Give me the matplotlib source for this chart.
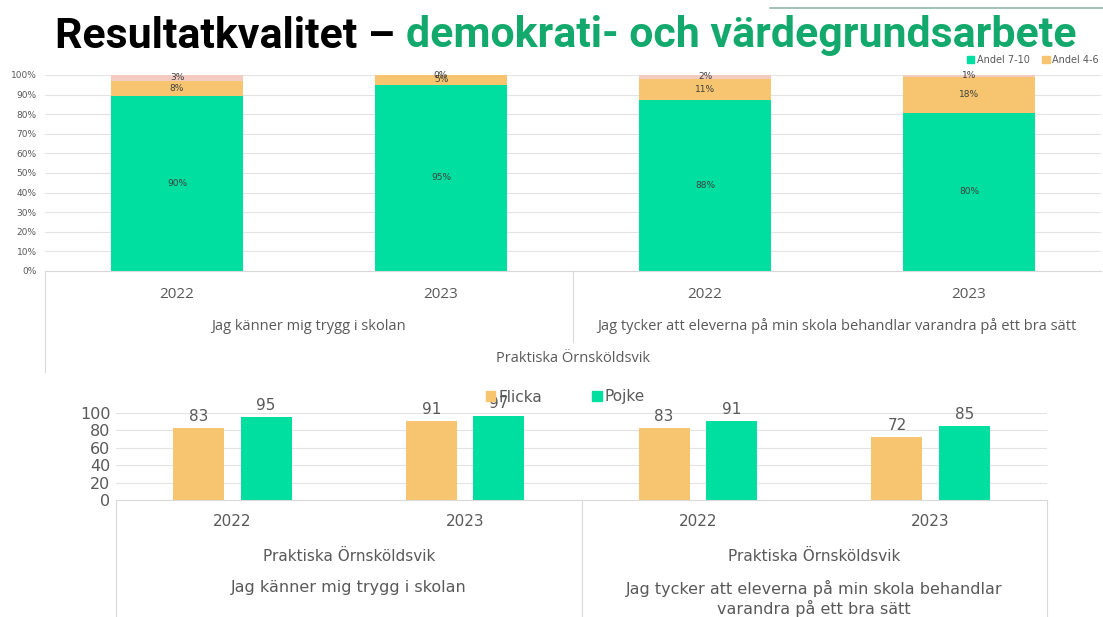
import numpy as np
import matplotlib.pyplot as plt
from matplotlib.transforms import blended_transform_factory
from matplotlib.lines import Line2D
from matplotlib.patches import Patch

# ---- data -------------------------------------------------------------
years = ["2022", "2023", "2022", "2023"]
questions = ["Jag känner mig trygg i skolan",
             "Jag tycker att eleverna på min skola behandlar varandra på ett bra sätt"]
school = "Praktiska Örnsköldsvik"

andel_7_10 = [90, 95, 88, 80]
andel_4_6 = [8, 5, 11, 18]
andel_1_3 = [3, 0, 2, 1]

flicka = [83, 91, 83, 72]
pojke = [95, 97, 91, 85]
questions_wrapped = ["Jag känner mig trygg i skolan",
                     "Jag tycker att eleverna på min skola behandlar\nvarandra på ett bra sätt"]

GREEN = "#00DF9F"
ORANGE = "#F7C56F"
PINK = "#F3CBC0"
GRID = "#E3E3E3"
TXT = "#595959"

W, H = 1103, 617
fig = plt.figure(figsize=(W / 100, H / 100), dpi=100)


def px_axes(left, top, right, bottom):
    return fig.add_axes([left / W, 1 - bottom / H, (right - left) / W, (bottom - top) / H])


def fy(y):
    return 1 - y / H


# ---- title (size fitted to the width it takes in the slide) ------------
t1 = fig.text(55 / W, fy(36), "Resultatkvalitet – ", fontsize=30, fontweight="bold",
              family="Roboto", color="black", va="center")
t2 = fig.text(0, fy(36), "demokrati- och värdegrundsarbete", fontsize=30, fontweight="bold",
              family="Roboto", color="#14A96C", va="center")
rend = fig.canvas.get_renderer()
w_all = t1.get_window_extent(rend).width + t2.get_window_extent(rend).width
size = 30 * 1020 / w_all
t1.set_fontsize(size)
t2.set_fontsize(size)
t2.set_x((55 + t1.get_window_extent(rend).width) / W)
fig.add_artist(Line2D([770 / W, 1.0], [fy(8), fy(8)], color="#8FB8A8", lw=1.2))

# ---- top chart: 100% stacked -------------------------------------------
ax = px_axes(45, 75, 1101, 271)
x = np.arange(len(years))
tot = np.array(andel_7_10) + np.array(andel_4_6) + np.array(andel_1_3)
g = np.array(andel_7_10) / tot * 100
o = np.array(andel_4_6) / tot * 100
p = np.array(andel_1_3) / tot * 100
ax.bar(x, g, 0.5, color=GREEN, zorder=2, label="Andel 7-10")
ax.bar(x, o, 0.5, bottom=g, color=ORANGE, zorder=2, label="Andel 4-6")
ax.bar(x, p, 0.5, bottom=g + o, color=PINK, zorder=2)
for i in range(len(years)):
    for val, b, h in [(andel_7_10[i], 0, g[i]), (andel_4_6[i], g[i], o[i]), (andel_1_3[i], g[i] + o[i], p[i])]:
        ax.text(x[i], b + h / 2, f"{val}%", ha="center", va="center", fontsize=6.5,
                color="#404040", zorder=3)
ax.set_xlim(-0.5, 3.5)
ax.set_ylim(0, 100)
ax.set_yticks(range(0, 101, 10))
ax.set_yticklabels([f"{v}%" for v in range(0, 101, 10)], fontsize=6.5, color=TXT)
ax.set_xticks([])
ax.tick_params(axis="y", length=0, pad=6)
ax.grid(axis="y", color=GRID, lw=0.8, zorder=0)
for s in ["top", "right", "left"]:
    ax.spines[s].set_visible(False)
ax.spines["bottom"].set_color("#D9D9D9")

tr = blended_transform_factory(ax.transData, fig.transFigure)
for i, yr in enumerate(years):
    ax.text(x[i], fy(294), yr, transform=tr, ha="center", va="center", fontsize=11,
            color=TXT, family="Open Sans")
for k, q in enumerate(questions):
    ax.text(0.5 + 2 * k, fy(326), q, transform=tr, ha="center", va="center", fontsize=10.5,
            color=TXT, family="Open Sans")
ax.text(1.5, fy(358), school, transform=tr, ha="center", va="center", fontsize=10.5,
        color=TXT, family="Open Sans")
ax.add_line(Line2D([-0.5, -0.5], [fy(271), fy(372)], transform=tr, color="#D9D9D9", lw=0.8, clip_on=False))
ax.add_line(Line2D([1.5, 1.5], [fy(271), fy(342)], transform=tr, color="#D9D9D9", lw=0.8, clip_on=False))

fig.legend(handles=[Patch(color=GREEN, label="Andel 7-10"), Patch(color=ORANGE, label="Andel 4-6")],
           loc="center right", bbox_to_anchor=(1.0, fy(60)), ncol=2, frameon=False,
           fontsize=7, handlelength=0.8, handleheight=0.8, handletextpad=0.3,
           columnspacing=1.2, labelcolor=TXT, borderaxespad=0)

# ---- bottom chart: Flicka / Pojke ---------------------------------------
bx = px_axes(116, 413, 1047, 500)
bw = 0.22
off = 0.145
r1 = bx.bar(x - off, flicka, bw, color=ORANGE, zorder=2, label="Flicka")
r2 = bx.bar(x + off, pojke, bw, color=GREEN, zorder=2, label="Pojke")
for rects, vals in [(r1, flicka), (r2, pojke)]:
    for r, v in zip(rects, vals):
        bx.annotate(str(v), (r.get_x() + r.get_width() / 2, r.get_height()), xytext=(0, 3),
                    textcoords="offset points", ha="center", va="bottom", fontsize=11, color=TXT)
bx.set_xlim(-0.5, 3.5)
bx.set_ylim(0, 100)
bx.set_yticks(range(0, 101, 20))
bx.tick_params(axis="y", length=0, labelsize=11.5, labelcolor=TXT, pad=4)
bx.set_xticks([])
bx.grid(axis="y", color=GRID, lw=0.8, zorder=0)
for s in ["top", "right", "left"]:
    bx.spines[s].set_visible(False)
bx.spines["bottom"].set_color("#D9D9D9")

tr2 = blended_transform_factory(bx.transData, fig.transFigure)
for i, yr in enumerate(years):
    bx.text(x[i], fy(522), yr, transform=tr2, ha="center", va="center", fontsize=11, color=TXT)
for k, q in enumerate(questions_wrapped):
    bx.text(0.5 + 2 * k, fy(556), school, transform=tr2, ha="center", va="center",
            fontsize=11, color=TXT)
    bx.text(0.5 + 2 * k, fy(580), q, transform=tr2, ha="center", va="top",
            fontsize=11.5, color=TXT, linespacing=1.2)
for xv in [-0.5, 1.5, 3.5]:
    bx.add_line(Line2D([xv, xv], [fy(500), 0], transform=tr2, color="#D9D9D9", lw=0.8, clip_on=False))

fig.legend(handles=[Patch(color=ORANGE, label="Flicka"), Patch(color=GREEN, label="Pojke")],
           loc="center left", bbox_to_anchor=(486 / W, fy(397)), ncol=2, frameon=False,
           fontsize=11, handlelength=0.6, handleheight=0.6, handletextpad=0.2,
           columnspacing=3.3, labelcolor=TXT, borderaxespad=0, borderpad=0)

fig.savefig("out.png", dpi=100)
